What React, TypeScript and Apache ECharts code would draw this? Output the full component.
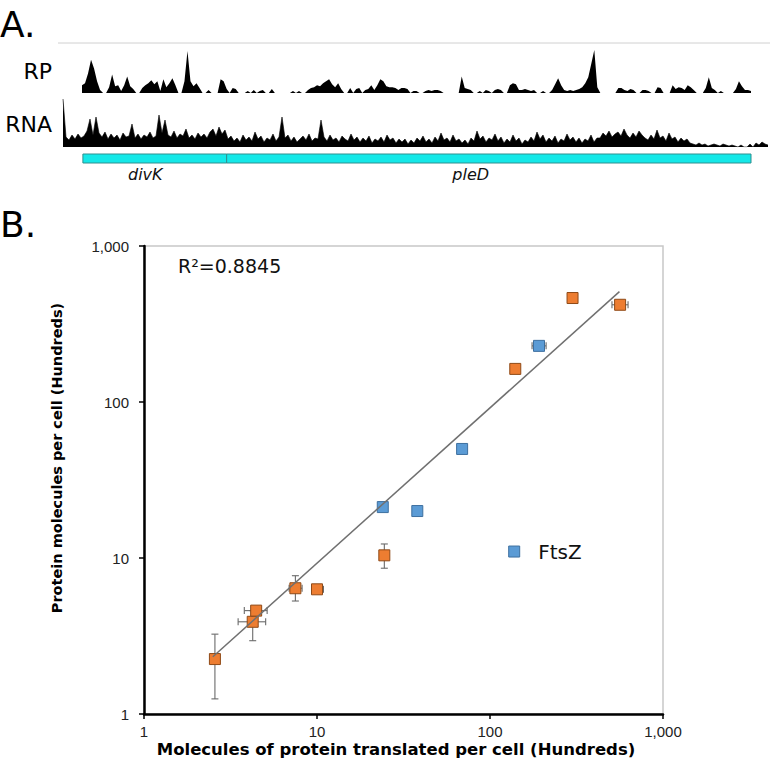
import React, { useEffect, useRef } from 'react';
import * as echarts from 'echarts';

// ---- Panel A: coverage tracks (binned read heights) ----
const rpCoverage = [
  8, 10, 20, 34, 25, 12, 3, 0, 0, 6, 19, 7, 8, 2, 8, 17, 7, 4, 0, 0,
  5, 8, 10, 13, 9, 12, 2, 14, 6, 10, 15, 8, 0, 0, 12, 43, 12, 7, 10, 5,
  0, 0, 3, 0, 0, 0, 14, 12, 4, 0, 5, 4, 0, 0, 0, 2, 0, 3, 0, 2,
  3, 0, 0, 4, 0, 0, 0, 0, 0, 0, 2, 0, 2, 0, 0, 3, 5, 6, 8, 7,
  10, 12, 14, 9, 6, 10, 4, 0, 0, 5, 0, 4, 5, 0, 3, 4, 8, 3, 8, 14,
  12, 7, 6, 6, 5, 3, 5, 5, 4, 0, 2, 2, 0, 0, 2, 3, 2, 3, 3, 2,
  0, 0, 0, 0, 0, 0, 17, 5, 4, 3, 0, 0, 2, 0, 3, 2, 0, 3, 4, 3,
  0, 0, 8, 10, 9, 3, 3, 4, 3, 2, 3, 0, 0, 2, 0, 0, 3, 9, 15, 8,
  3, 2, 3, 2, 3, 4, 6, 10, 16, 30, 44, 6, 0, 0, 0, 0, 0, 0, 5, 5,
  3, 2, 4, 3, 0, 0, 3, 3, 2, 0, 0, 6, 5, 0, 0, 0, 8, 4, 6, 5,
  3, 8, 6, 3, 0, 0, 0, 5, 16, 5, 3, 0, 2, 0, 0, 0, 0, 4, 12, 7,
  3, 3, 2,
];

const rnaCoverage = [
  48, 10, 7, 12, 8, 13, 9, 11, 16, 28, 12, 30, 14,
  10, 15, 8, 13, 9, 12, 7, 14, 10, 11,
  23,
  9, 13, 8, 12, 10, 15, 9, 11,
  32, 14, 27, 12,
  10, 16, 9, 13, 11, 18, 9, 12, 8, 14, 10, 13, 9, 15,
  18, 11, 20, 13, 17,
  8, 11, 6, 9, 5, 12, 7, 10, 6, 15, 8, 11, 5, 9, 7, 13, 6, 10,
  30,
  9, 12, 6, 10, 5, 8, 11, 7, 13, 6, 9, 8,
  27,
  10, 6, 12, 7, 9, 5, 11, 8, 6, 13, 7, 10, 5, 9, 6, 11, 4, 8, 6, 10, 5, 12, 7, 9, 4, 8,
  5, 8, 3, 7, 4, 9, 6, 11, 5, 8, 4, 10, 6, 14, 7, 9, 5, 12, 6, 8,
  4, 7, 3, 9, 6, 16, 8, 11, 5, 9, 7, 13, 6, 10, 4, 8, 5, 12, 6, 9,
  3, 7, 5, 10, 6, 15, 8, 12, 5, 9, 6, 11, 4, 8, 6, 13, 7, 10, 5, 9,
  4, 8, 6, 12, 5, 9,
  9, 14, 11, 16, 10, 13, 15, 11, 18, 12, 9, 14, 10, 16, 12, 9,
  7, 12, 8, 17, 9, 11, 6, 14, 8, 10, 5, 9, 6, 8, 4,
  3, 2, 4, 2, 3, 1, 2, 3, 2, 1, 3, 2, 1, 2, 1,
  0, 2, 0, 0, 3, 0, 4, 2, 5, 3, 2,
];

const geneNames = ['divK', 'pleD'];
const geneStart = [0.3, 48];
const geneEnd = [48, 222];
const geneLabelAt = [21, 129];

// ---- Panel B: scatter (hundreds of molecules per cell) ----
const orangeX = [2.57, 4.25, 4.45, 7.5, 10.0, 24.5, 140, 300, 565];
const orangeY = [2.25, 3.9, 4.6, 6.4, 6.3, 10.4, 163, 464, 420];
const orangeXLo = [0, 3.5, 3.8, 6.9, 9.5, 0, 0, 0, 507];
const orangeXHi = [0, 5.05, 5.15, 8.2, 10.9, 0, 0, 0, 628];
const orangeYLo = [1.25, 2.95, 0, 5.3, 0, 8.6, 0, 0, 0];
const orangeYHi = [3.25, 4.6, 0, 7.7, 0, 12.3, 0, 0, 0];

const blueX = [24, 38, 69, 192, 138];
const blueY = [21.2, 20, 50, 229, 11];
const blueXLo = [0, 0, 0, 175, 0];
const blueXHi = [0, 0, 0, 211, 0];
const blueLabels = ['', '', '', '', 'FtsZ'];

const trendX = [2.5, 560];
const trendY = [2.33, 510];
const rSquared = '0.8845';

const FONT = 'DejaVu Sans';

function fmtTick(v: number) {
  return Math.round(v).toLocaleString('en-US');
}

export default function App() {
  const ref = useRef<HTMLDivElement>(null);
  useEffect(() => {
    document.body.style.margin = '0';
    const chart = echarts.init(ref.current!, null, { renderer: 'svg' });

    const errData: number[][] = [];
    orangeX.forEach((x, i) => errData.push([x, orangeY[i], orangeXLo[i], orangeXHi[i], orangeYLo[i], orangeYHi[i]]));
    blueX.forEach((x, i) => errData.push([x, blueY[i], blueXLo[i], blueXHi[i], 0, 0]));

    const genes = geneNames.map((_, i) => [geneStart[i], geneEnd[i], geneLabelAt[i]]);

    const hiddenCat = (gi: number, n: number) => ({
      type: 'category', gridIndex: gi, data: Array.from({ length: n }, (_, i) => i),
      boundaryGap: false, show: false,
    });

    const option: any = {
      animation: false,
      grid: [
        { left: 82, top: 50, width: 669, height: 43 },
        { left: 63, top: 99, width: 705, height: 48 },
        { left: 82, top: 154, width: 669, height: 9 },
        { left: 144, top: 246, width: 519, height: 468, show: true, borderColor: '#c8c8c8', borderWidth: 1.5, backgroundColor: 'transparent' },
      ],
      xAxis: [
        hiddenCat(0, rpCoverage.length),
        hiddenCat(1, rnaCoverage.length),
        { type: 'value', gridIndex: 2, min: 0, max: 222, show: false },
        {
          type: 'log', gridIndex: 3, logBase: 10, min: 1, max: 1000,
          axisLine: { show: true, lineStyle: { color: '#000', width: 2.5 } },
          axisTick: { show: true, length: 5, lineStyle: { color: '#000', width: 1.5 } },
          minorTick: { show: false },
          splitLine: { show: false },
          axisLabel: { fontSize: 15, color: '#222', fontFamily: 'Liberation Sans', margin: 10, formatter: fmtTick },
        },
      ],
      yAxis: [
        { type: 'value', gridIndex: 0, min: 0, max: 44, show: false },
        { type: 'value', gridIndex: 1, min: 0, max: 48, show: false },
        { type: 'value', gridIndex: 2, min: 0, max: 1, show: false },
        {
          type: 'log', gridIndex: 3, logBase: 10, min: 1, max: 1000,
          axisLine: { show: true, lineStyle: { color: '#000', width: 2.5 } },
          axisTick: { show: true, length: 5, lineStyle: { color: '#000', width: 1.5 } },
          minorTick: { show: false },
          splitLine: { show: false },
          axisLabel: { fontSize: 15, color: '#222', fontFamily: 'Liberation Sans', margin: 15, formatter: fmtTick },
        },
      ],
      series: [
        {
          type: 'line', xAxisIndex: 0, yAxisIndex: 0, data: rpCoverage, showSymbol: false, smooth: false,
          lineStyle: { width: 0, color: '#000' }, areaStyle: { color: '#000', opacity: 1 }, silent: true,
        },
        {
          type: 'line', xAxisIndex: 1, yAxisIndex: 1, data: rnaCoverage, showSymbol: false, smooth: false,
          lineStyle: { width: 0.6, color: '#000' }, areaStyle: { color: '#000', opacity: 1 }, silent: true,
        },
        {
          type: 'custom', xAxisIndex: 2, yAxisIndex: 2, data: genes, encode: { x: 0 },
          renderItem: (params: any, api: any) => {
            const s = api.value(0), e = api.value(1), lx = api.value(2);
            const p0 = api.coord([s, 1]);
            const p1 = api.coord([e, 0]);
            const lp = api.coord([lx, 0]);
            return {
              type: 'group',
              children: [
                { type: 'rect', shape: { x: p0[0], y: p0[1], width: p1[0] - p0[0], height: p1[1] - p0[1] }, style: { fill: '#14e8e8', stroke: '#2f8f8f', lineWidth: 1 } },
                { type: 'text', style: { text: geneNames[params.dataIndex], x: lp[0], y: lp[1] + 11, align: 'center', verticalAlign: 'middle', textAlign: 'center', textVerticalAlign: 'middle', fontSize: 16, fontStyle: 'italic', fontFamily: FONT, fill: '#111' } },
              ],
            };
          },
        },
        {
          type: 'custom', xAxisIndex: 3, yAxisIndex: 3, data: errData, encode: { x: 0, y: 1 }, z: 1,
          renderItem: (params: any, api: any) => {
            const x = api.value(0), y = api.value(1);
            const xl = api.value(2), xh = api.value(3), yl = api.value(4), yh = api.value(5);
            const children: any[] = [];
            const st = { stroke: '#6a6a6a', lineWidth: 1.1 };
            const cap = 3.5;
            if (xl > 0 && xh > 0) {
              const a = api.coord([xl, y]);
              const b = api.coord([xh, y]);
              children.push({ type: 'line', shape: { x1: a[0], y1: a[1], x2: b[0], y2: b[1] }, style: st });
              children.push({ type: 'line', shape: { x1: a[0], y1: a[1] - cap, x2: a[0], y2: a[1] + cap }, style: st });
              children.push({ type: 'line', shape: { x1: b[0], y1: b[1] - cap, x2: b[0], y2: b[1] + cap }, style: st });
            }
            if (yl > 0 && yh > 0) {
              const a = api.coord([x, yl]);
              const b = api.coord([x, yh]);
              children.push({ type: 'line', shape: { x1: a[0], y1: a[1], x2: b[0], y2: b[1] }, style: st });
              children.push({ type: 'line', shape: { x1: a[0] - cap, y1: a[1], x2: a[0] + cap, y2: a[1] }, style: st });
              children.push({ type: 'line', shape: { x1: b[0] - cap, y1: b[1], x2: b[0] + cap, y2: b[1] }, style: st });
            }
            return { type: 'group', children };
          },
        },
        {
          type: 'scatter', xAxisIndex: 3, yAxisIndex: 3, symbol: 'rect', symbolSize: 11, z: 3,
          data: orangeX.map((x, i) => [x, orangeY[i]]),
          itemStyle: { color: '#ED7D31', borderColor: '#8f4a17', borderWidth: 1, opacity: 1 },
        },
        {
          type: 'scatter', xAxisIndex: 3, yAxisIndex: 3, symbol: 'rect', symbolSize: 11, z: 3,
          data: blueX.map((x, i) => ({
            value: [x, blueY[i]],
            label: blueLabels[i] ? { show: true, formatter: blueLabels[i], position: 'right', distance: 18, fontSize: 20, color: '#111', fontFamily: FONT } : undefined,
          })),
          itemStyle: { color: '#5B9BD5', borderColor: '#3d6f9f', borderWidth: 1, opacity: 1 },
        },
        {
          type: 'line', xAxisIndex: 3, yAxisIndex: 3, z: 4, showSymbol: false, silent: true,
          data: trendX.map((x, i) => [x, trendY[i]]),
          lineStyle: { color: '#707070', width: 1.5 },
        },
      ],
      graphic: [
        { type: 'text', x: 0, y: 24, style: { text: 'A.', fontSize: 36, fontFamily: FONT, fill: '#000', verticalAlign: 'middle', textVerticalAlign: 'middle' } },
        { type: 'line', shape: { x1: 58, y1: 43, x2: 770, y2: 43 }, style: { stroke: '#d0d0d0', lineWidth: 1 } },
        { type: 'text', x: 52, y: 71, style: { text: 'RP', fontSize: 22, fontFamily: FONT, fill: '#000', align: 'right', textAlign: 'right', verticalAlign: 'middle', textVerticalAlign: 'middle' } },
        { type: 'text', x: 52, y: 124, style: { text: 'RNA', fontSize: 22, fontFamily: FONT, fill: '#000', align: 'right', textAlign: 'right', verticalAlign: 'middle', textVerticalAlign: 'middle' } },
        { type: 'text', x: 0, y: 224, style: { text: 'B.', fontSize: 36, fontFamily: FONT, fill: '#000', verticalAlign: 'middle', textVerticalAlign: 'middle' } },
        { type: 'text', x: 178, y: 266, style: { text: 'R²=' + rSquared, fontSize: 19, fontFamily: FONT, fill: '#111', verticalAlign: 'middle', textVerticalAlign: 'middle' } },
        { type: 'text', x: 396, y: 749, style: { text: 'Molecules of protein translated per cell (Hundreds)', fontSize: 16.5, fontWeight: 'bold', fontFamily: FONT, fill: '#000', align: 'center', textAlign: 'center', verticalAlign: 'middle', textVerticalAlign: 'middle' } },
        { type: 'text', x: 57, y: 458, rotation: Math.PI / 2, style: { text: 'Protein molecules per cell (Hundreds)', fontSize: 14.5, fontWeight: 'bold', fontFamily: FONT, fill: '#000', align: 'center', textAlign: 'center', verticalAlign: 'middle', textVerticalAlign: 'middle' } },
      ],
    };
    chart.setOption(option);
    return () => chart.dispose();
  }, []);
  return <div ref={ref} style={{ position: 'absolute', left: 0, top: 0, width: 771, height: 760 }} />;
}
